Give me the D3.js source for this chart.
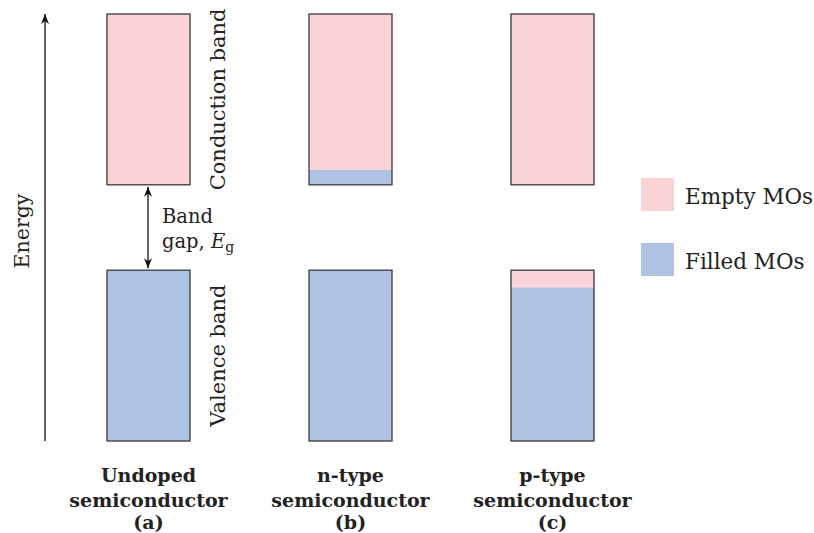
<!DOCTYPE html>
<html><head><meta charset="utf-8">
<script src="https://cdn.jsdelivr.net/npm/d3@7"></script>
<style>body{margin:0;background:#fff}svg{display:block}</style>
</head><body><svg id="c" width="814" height="533"></svg>
<script>
const categories = ["undoped", "n-type", "p-type"];
const titleLine1 = ["Undoped", "n-type", "p-type"];
const titleLine2 = ["semiconductor", "semiconductor", "semiconductor"];
const titleLine3 = ["(a)", "(b)", "(c)"];
// energy levels (0 = bottom of valence band, 100 = top of conduction band)
const valenceBand = [0, 40];
const conductionBand = [60, 100];
const valenceFilledTo = [40, 40, 36];
const conductionFilledTo = [60, 63.5, 60];
const legendLabels = ["Empty MOs", "Filled MOs"];

const PINK = "#f9d3d6", BLUE = "#aec3e3", STROKE = "#3a3a3a";
const FONT = "DejaVu Serif";
const svg = d3.select("#c");
const y = d3.scaleLinear().domain([0, 100]).range([441, 14]);
const x = d3.scaleBand().domain(categories).range([107, 594]).paddingInner(119/202).paddingOuter(0);

const defs = svg.append("defs");
defs.append("marker").attr("id","ah").attr("viewBox","0 0 10 10").attr("refX",10).attr("refY",5)
  .attr("markerWidth",10).attr("markerHeight",10).attr("markerUnits","userSpaceOnUse").attr("orient","auto-start-reverse")
  .append("path").attr("d","M0,1 L10,5 L0,9 L3,5 Z").attr("fill","#111");

categories.forEach((c, i) => {
  const g = svg.append("g");
  const x0 = x(c), w = x.bandwidth();
  // valence band
  g.append("rect").attr("x", x0).attr("width", w).attr("y", y(valenceFilledTo[i])).attr("height", y(valenceBand[0]) - y(valenceFilledTo[i])).attr("fill", BLUE);
  g.append("rect").attr("x", x0).attr("width", w).attr("y", y(valenceBand[1])).attr("height", y(valenceFilledTo[i]) - y(valenceBand[1])).attr("fill", PINK);
  g.append("rect").attr("x", x0).attr("width", w).attr("y", y(valenceBand[1])).attr("height", y(valenceBand[0]) - y(valenceBand[1])).attr("fill", "none").attr("stroke", STROKE).attr("stroke-width", 1.3);
  // conduction band
  g.append("rect").attr("x", x0).attr("width", w).attr("y", y(conductionFilledTo[i])).attr("height", y(conductionBand[0]) - y(conductionFilledTo[i])).attr("fill", BLUE);
  g.append("rect").attr("x", x0).attr("width", w).attr("y", y(conductionBand[1])).attr("height", y(conductionFilledTo[i]) - y(conductionBand[1])).attr("fill", PINK);
  g.append("rect").attr("x", x0).attr("width", w).attr("y", y(conductionBand[1])).attr("height", y(conductionBand[0]) - y(conductionBand[1])).attr("fill", "none").attr("stroke", STROKE).attr("stroke-width", 1.3);
  // titles
  const cx = x0 + w / 2;
  const t = svg.append("text").attr("text-anchor","middle").attr("font-family", FONT).attr("font-weight","bold").attr("font-size", 19).attr("fill","#222");
  t.append("tspan").attr("x", cx).attr("y", 482).text(titleLine1[i]);
  t.append("tspan").attr("x", cx).attr("y", 507).text(titleLine2[i]);
  t.append("tspan").attr("x", cx).attr("y", 529).text(titleLine3[i]);
});

// energy axis
svg.append("line").attr("x1",45).attr("x2",45).attr("y1",y(0)).attr("y2",y(100)).attr("stroke","#111").attr("stroke-width",1.3).attr("marker-end","url(#ah)");
svg.append("text").attr("transform",`translate(29,231) rotate(-90)`).attr("text-anchor","middle")
  .attr("font-family",FONT).attr("font-size",20.5).attr("fill","#222").text("Energy");

// band gap arrow
const ux = x(categories[0]) + x.bandwidth()/2 - 0.5;
svg.append("line").attr("x1",ux).attr("x2",ux).attr("y1",y(valenceBand[1])-2).attr("y2",y(conductionBand[0])+2)
  .attr("stroke","#111").attr("stroke-width",1.3).attr("marker-start","url(#ah)").attr("marker-end","url(#ah)");
const bg = svg.append("text").attr("font-family",FONT).attr("font-size",19.5).attr("fill","#222");
bg.append("tspan").attr("x",162).attr("y",223).text("Band");
bg.append("tspan").attr("x",162).attr("y",248).text("gap, ");
bg.append("tspan").attr("font-style","italic").text("E");
bg.append("tspan").attr("font-size",14).attr("dy",4).text("g");

// band labels
const bx = x(categories[0]) + x.bandwidth() + 35;
svg.append("text").attr("transform",`translate(${bx},${y((conductionBand[0]+conductionBand[1])/2)}) rotate(-90)`).attr("text-anchor","middle")
  .attr("font-family",FONT).attr("font-size",21).attr("fill","#222").text("Conduction band");
svg.append("text").attr("transform",`translate(${bx},${y((valenceBand[0]+valenceBand[1])/2)}) rotate(-90)`).attr("text-anchor","middle")
  .attr("font-family",FONT).attr("font-size",21).attr("fill","#222").text("Valence band");

// legend
const lg = svg.append("g").attr("transform","translate(641,178)");
[PINK, BLUE].forEach((col, i) => {
  lg.append("rect").attr("x",0).attr("y",i*65).attr("width",33).attr("height",33).attr("fill",col);
  lg.append("text").attr("x",44).attr("y",i*65+26).attr("font-family",FONT).attr("font-size",21.5).attr("fill","#222").text(legendLabels[i]);
});
</script></body></html>
